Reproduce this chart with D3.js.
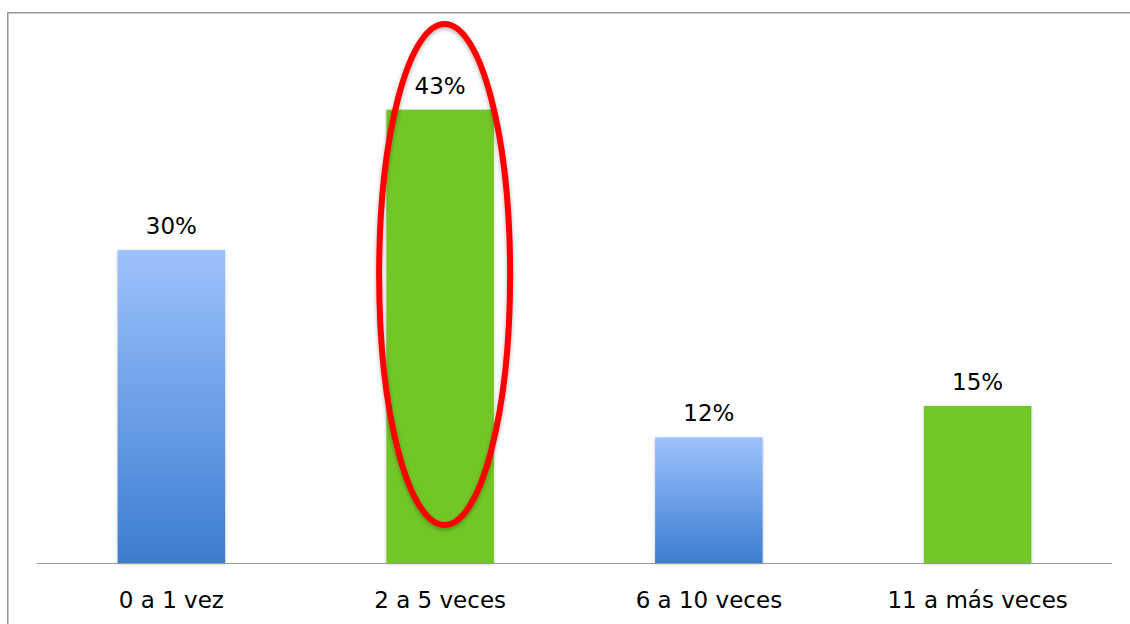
<!DOCTYPE html>
<html>
<head>
<meta charset="utf-8">
<script src="https://cdn.jsdelivr.net/npm/d3@7"></script>
<style>
  html, body { margin: 0; padding: 0; background: #fff; }
  svg { display: block; }
  text { font-family: "DejaVu Sans", Verdana, sans-serif; fill: #000; }
</style>
</head>
<body>
<svg id="chart" width="1130" height="624"></svg>
<script>
const categories = ["0 a 1 vez", "2 a 5 veces", "6 a 10 veces", "11 a más veces"];
const values = [29.9, 43.3, 12.0, 15.0];
const barStyle = ["blue", "green", "blue", "green"];
const highlighted = ["2 a 5 veces"];

const svg = d3.select("#chart");
const W = 1130, H = 624;
const baseline = 563;

const defs = svg.append("defs");
const grad = defs.append("linearGradient").attr("id", "blueGrad")
  .attr("x1", 0).attr("y1", 0).attr("x2", 0).attr("y2", 1);
grad.append("stop").attr("offset", "0%").attr("stop-color", "#9dc2fd");
grad.append("stop").attr("offset", "100%").attr("stop-color", "#3c7dd0");

const shadow = defs.append("filter").attr("id", "shadow")
  .attr("x", "-20%").attr("y", "-20%").attr("width", "140%").attr("height", "140%");
shadow.append("feDropShadow").attr("dx", 0).attr("dy", 2).attr("stdDeviation", 2)
  .attr("flood-color", "#000").attr("flood-opacity", 0.3);
const shadowBar = defs.append("filter").attr("id", "shadowBar")
  .attr("x", "-10%").attr("y", "-10%").attr("width", "120%").attr("height", "120%");
shadowBar.append("feDropShadow").attr("dx", 0).attr("dy", 1).attr("stdDeviation", 1.5)
  .attr("flood-color", "#000").attr("flood-opacity", 0.25);

// outer frame
svg.append("rect").attr("x", 7.75).attr("y", 12.75).attr("width", 1200).attr("height", 700)
  .attr("fill", "none").attr("stroke", "#959595").attr("stroke-width", 1.5);

const x = d3.scaleBand().domain(categories).range([37, 1112])
  .paddingInner(0.6).paddingOuter(0.3);
const y = d3.scaleLinear().domain([0, 50]).range([baseline, baseline - 50 * 10.47]);

const fills = { blue: "url(#blueGrad)", green: "#72c728" };

svg.append("g").selectAll("rect").data(categories).join("rect")
  .attr("x", d => x(d))
  .attr("y", (d, i) => y(values[i]))
  .attr("width", x.bandwidth())
  .attr("height", (d, i) => baseline - y(values[i]))
  .attr("fill", (d, i) => fills[barStyle[i]])
  .attr("filter", "url(#shadowBar)");

// axis
const axis = d3.axisBottom(x).tickSize(0).tickPadding(0);
const gx = svg.append("g").attr("transform", `translate(0,${baseline})`).call(axis);
gx.select(".domain").attr("stroke", "#9a9a9a").attr("stroke-width", 1.2)
  .attr("d", `M37,0.5H1112`);
gx.selectAll(".tick text")
  .attr("y", 45).attr("dy", 0)
  .style("font-family", '"DejaVu Sans", Verdana, sans-serif')
  .style("font-size", "23px").attr("fill", "#000");

// value labels
svg.append("g").selectAll("text").data(categories).join("text")
  .attr("x", d => x(d) + x.bandwidth() / 2)
  .attr("y", (d, i) => y(values[i]) - 16)
  .attr("text-anchor", "middle")
  .style("font-size", "23px")
  .text((d, i) => Math.round(values[i]) + "%");

// highlight ellipse
highlighted.forEach(c => {
  svg.append("ellipse")
    .attr("cx", x(c) + x.bandwidth() / 2 + 4.5)
    .attr("cy", 274.5)
    .attr("rx", 65.5)
    .attr("ry", 250.5)
    .attr("fill", "none")
    .attr("stroke", "#ff0000")
    .attr("stroke-width", 6)
    .attr("filter", "url(#shadow)");
});
</script>
</body>
</html>
